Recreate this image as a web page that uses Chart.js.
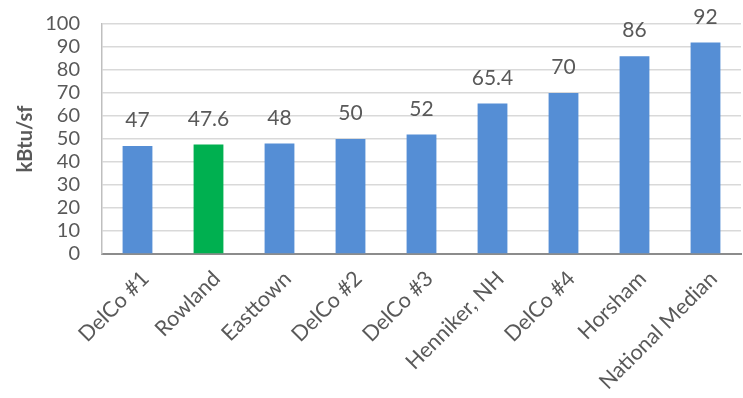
<!DOCTYPE html>
<html lang="en">
<head>
    <meta charset="UTF-8">
    <title>kBtu/sf comparison</title>
    <script src="https://cdnjs.cloudflare.com/ajax/libs/Chart.js/4.4.1/chart.umd.min.js"></script>
    <style>
        body { margin: 0; padding: 0; background: #ffffff; }
        canvas { display: block; }
    </style>
</head>
<body>
    <canvas id="myChart" width="743" height="398"></canvas>
    <script>
        // data
        const categories = ['DelCo #1', 'Rowland', 'Easttown', 'DelCo #2', 'DelCo #3',
                            'Henniker, NH', 'DelCo #4', 'Horsham', 'National Median'];
        const values = [47, 47.6, 48, 50, 52, 65.4, 70, 86, 92];
        const barColors = ['#558ed5', '#00b050', '#558ed5', '#558ed5', '#558ed5',
                           '#558ed5', '#558ed5', '#558ed5', '#558ed5'];

        const FONT = 'Lato, "Open Sans", sans-serif';
        const TEXT = '#595959';

        // draw the value above each bar
        const valueLabels = {
            id: 'valueLabels',
            afterDatasetsDraw(chart) {
                const c = chart.ctx;
                const meta = chart.getDatasetMeta(0);
                c.save();
                c.fillStyle = TEXT;
                c.font = '21px ' + FONT;
                c.textAlign = 'center';
                c.textBaseline = 'bottom';
                meta.data.forEach((bar, i) => {
                    c.fillText(String(values[i]), bar.x, bar.y - 15);
                });
                c.restore();
            }
        };

        const ctx = document.getElementById('myChart').getContext('2d');
        const myChart = new Chart(ctx, {
            type: 'bar',
            data: {
                labels: categories,
                datasets: [{
                    data: values,
                    backgroundColor: barColors,
                    borderWidth: 0,
                    categoryPercentage: 1.0,
                    barPercentage: 0.42
                }]
            },
            options: {
                responsive: false,
                animation: false,
                layout: { padding: { top: 24, right: 2, left: 0, bottom: 0 } },
                plugins: {
                    legend: { display: false },
                    tooltip: { enabled: false }
                },
                scales: {
                    x: {
                        grid: { display: false, drawTicks: false },
                        border: { color: '#8c8c8c', width: 2 },
                        ticks: {
                            color: TEXT,
                            font: { family: FONT, size: 21.5 },
                            minRotation: 45,
                            maxRotation: 45,
                            padding: 12,
                            labelOffset: 8,
                            autoSkip: false
                        },
                        afterFit(scale) {
                            scale.height = 144;
                            scale.paddingTop = 0;
                            scale.paddingBottom = 0;
                        }
                    },
                    y: {
                        min: 0,
                        max: 100,
                        ticks: {
                            stepSize: 10,
                            autoSkip: false,
                            color: TEXT,
                            font: { family: FONT, size: 20 },
                            padding: 22
                        },
                        grid: { color: '#d9d9d9', lineWidth: 1.5, drawTicks: false },
                        border: { color: '#bfbfbf', width: 1.5 },
                        title: {
                            display: true,
                            text: 'kBtu/sf',
                            color: TEXT,
                            font: { family: FONT, size: 20, weight: 'bold' },
                            padding: { top: 14, bottom: 0 }
                        },
                        afterFit(scale) {
                            scale.width = 102;
                            scale.paddingTop = 0;
                            scale.paddingBottom = 0;
                        }
                    }
                }
            },
            plugins: [valueLabels]
        });
    </script>
</body>
</html>
